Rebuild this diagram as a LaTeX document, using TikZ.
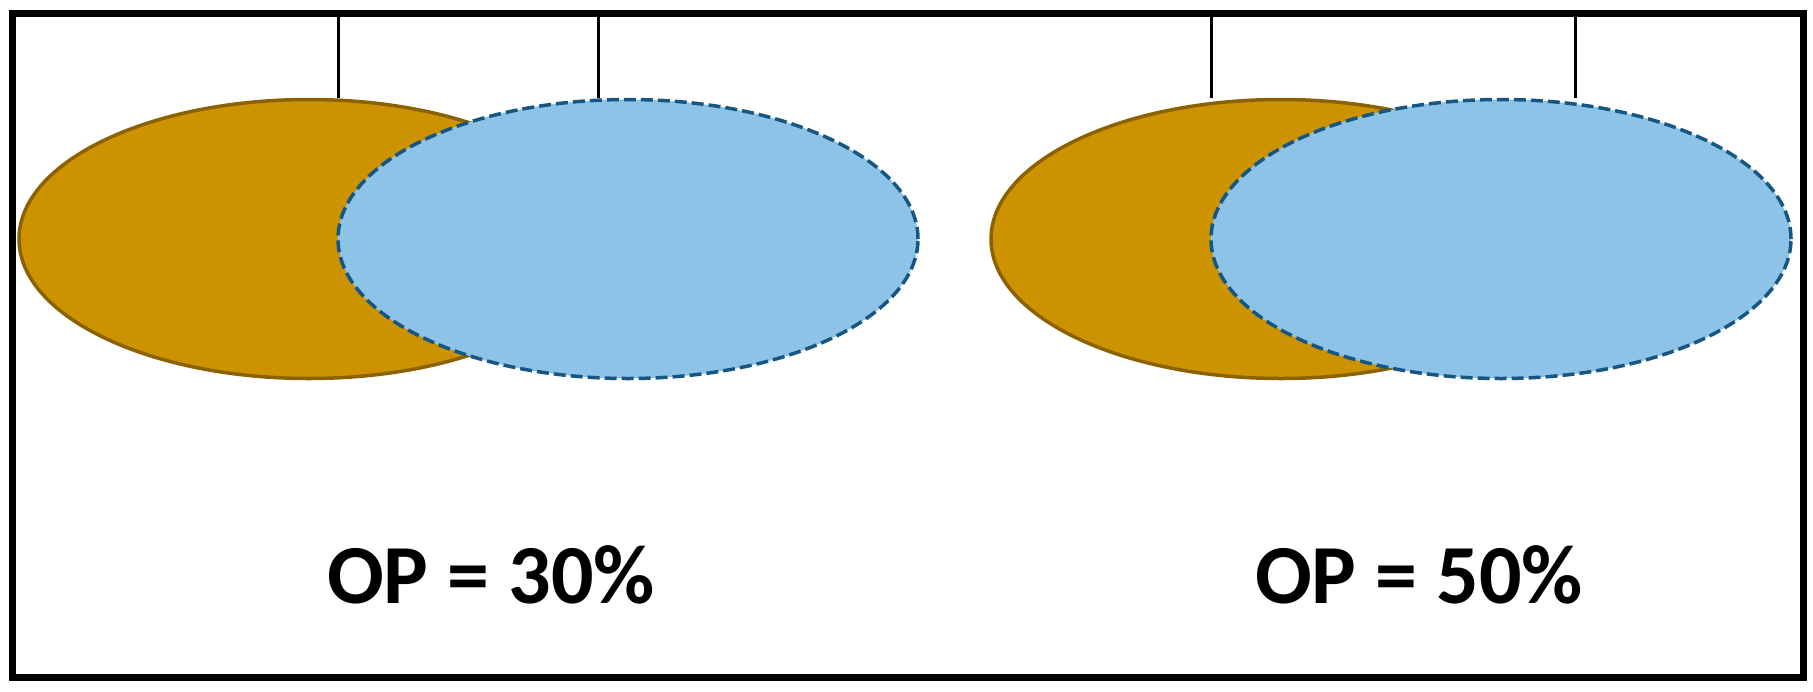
\documentclass[tikz,border=0pt]{standalone}
\usepackage{fontspec}
\setmainfont{Carlito}
\usetikzlibrary{shapes.geometric}
\definecolor{goldfill}{RGB}{204,146,0}
\definecolor{golddraw}{RGB}{140,98,0}
\definecolor{bluefill}{RGB}{141,195,230}
\definecolor{bluedraw}{RGB}{22,86,130}
\tikzset{
  goldell/.style={ellipse, fill=goldfill, draw=golddraw, line width=3.5pt, minimum width=580pt, minimum height=279pt, inner sep=0pt},
  blueell/.style={ellipse, fill=bluefill, draw=bluedraw, line width=3.5pt, dash pattern=on 12pt off 5pt, minimum width=580pt, minimum height=279pt, inner sep=0pt},
  hanger/.style={draw=black, line width=3pt},
  oplabel/.style={font=\bfseries\fontsize{84}{90}\selectfont, anchor=base, inner sep=0pt},
  framebox/.style={draw=black, line width=7pt}
}
\begin{document}
\begin{tikzpicture}[x=1pt,y=-1pt]
\useasboundingbox (0,0) rectangle (1813,691);
\draw[framebox] (12,13) rectangle (1803,677);
% left pair
\node[goldell] (g1) at (309,239) {};
\node[blueell] (b1) at (628,239) {};
\coordinate (t1) at (338,15);
\coordinate (t2) at (598,15);
\draw[hanger] (t1) -- (t1 |- g1.north);
\draw[hanger] (t2) -- (t2 |- b1.north);
% right pair
\node[goldell] (g2) at (1281,239) {};
\node[blueell] (b2) at (1501,239) {};
\coordinate (t3) at (1211,15);
\coordinate (t4) at (1575,15);
\draw[hanger] (t3) -- (t3 |- g2.north);
\draw[hanger] (t4) -- (t4 |- b2.north);
% labels
\node[oplabel] (l1) at (491,603) {OP = 30\%};
\node[oplabel] (l2) at (1419,603) {OP = 50\%};
\end{tikzpicture}
\end{document}
